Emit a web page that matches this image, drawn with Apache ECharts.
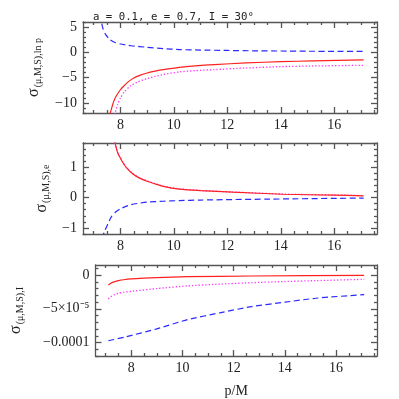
<!DOCTYPE html>
<html>
<head>
<meta charset="utf-8">
<script src="https://cdn.jsdelivr.net/npm/echarts@6/dist/echarts.min.js"></script>
<style>
  html, body { margin: 0; padding: 0; background: #fff; }
  #chart { width: 399px; height: 399px; }
</style>
</head>
<body>
<div id="chart"></div>
<script>
// x axis (p/M)
const xMajor = [8, 10, 12, 14, 16]
const xMinor = [7, 7.5, 8.5, 9, 9.5, 10.5, 11, 11.5, 12.5, 13, 13.5, 14.5, 15, 15.5, 16.5, 17, 17.5]

// panel 1: sigma ln p
const lnpBlueP = [7.25, 7.3, 7.36, 7.45, 7.6, 7.8, 8.0, 8.4, 9.0, 9.6, 10.2, 11, 12, 13, 14, 15, 16, 17.1]
const lnpBlueV = [7.5, 5.7, 4.5, 3.5, 2.55, 1.95, 1.65, 1.3, 1.0, 0.74, 0.55, 0.45, 0.37, 0.3, 0.26, 0.22, 0.19, 0.17]
const lnpRedP = [7.58, 7.62, 7.68, 7.73, 7.8, 7.86, 8.0, 8.1, 8.3, 8.5, 8.75, 9.0, 9.3, 9.6, 10.2, 10.8, 11.5, 12.7, 14, 15.2, 17.1]
const lnpRedV = [-13, -12, -10.9, -10, -9.1, -8.5, -7.4, -6.8, -5.8, -5.07, -4.5, -4.08, -3.73, -3.43, -2.96, -2.66, -2.43, -2.1, -1.84, -1.7, -1.5]
const lnpMagP = [7.75, 7.8, 7.9, 8.0, 8.15, 8.36, 8.65, 9.0, 9.3, 9.6, 10.2, 10.8, 11.5, 12.7, 14, 15.2, 17.1]
const lnpMagV = [-13, -12, -10.3, -9, -7.8, -6.7, -5.85, -5.2, -4.75, -4.4, -3.88, -3.62, -3.42, -3.09, -2.83, -2.7, -2.56]

// panel 2: sigma e
const eRedP = [7.75, 7.8, 7.86, 7.92, 8.0, 8.1, 8.24, 8.4, 8.6, 8.8, 9.0, 9.3, 9.6, 10.2, 11, 12.2, 14.1, 16, 17.1]
const eRedV = [2.0, 1.8, 1.58, 1.43, 1.3, 1.14, 0.97, 0.83, 0.7, 0.61, 0.54, 0.45, 0.37, 0.28, 0.23, 0.18, 0.11, 0.08, 0.06]
const eMagV = [2.02, 1.82, 1.6, 1.44, 1.31, 1.15, 0.98, 0.84, 0.71, 0.62, 0.55, 0.46, 0.38, 0.29, 0.235, 0.185, 0.115, 0.085, 0.065]
const eBlueP = [7.33, 7.36, 7.42, 7.49, 7.58, 7.67, 7.8, 8.0, 8.36, 8.7, 9.0, 9.6, 10.2, 11, 13.5, 17.1]
const eBlueV = [-1.35, -1.23, -1.08, -0.95, -0.77, -0.62, -0.49, -0.37, -0.24, -0.185, -0.15, -0.12, -0.1, -0.08, -0.05, -0.015]

// panel 3: sigma I
const iRedP = [7.1, 7.17, 7.24, 7.35, 7.5, 7.7, 8.0, 8.5, 9.0, 10.2, 12.7, 17.1]
const iRedV = [-1.46e-5, -1.28e-5, -1.12e-5, -0.96e-5, -0.82e-5, -0.69e-5, -0.57e-5, -0.46e-5, -0.38e-5, -0.23e-5, -0.13e-5, -0.03e-5]
const iMagP = [7.1, 7.17, 7.24, 7.35, 7.5, 7.7, 8.0, 9.0, 10.2, 11.5, 12.7, 14, 15.2, 17.1]
const iMagV = [-3.53e-5, -3.3e-5, -3.09e-5, -2.88e-5, -2.69e-5, -2.55e-5, -2.4e-5, -2.0e-5, -1.6e-5, -1.33e-5, -1.12e-5, -0.95e-5, -0.82e-5, -0.62e-5]
const iBlueP = [7.1, 7.73, 9.0, 10.2, 11.5, 12.7, 14.0, 15.2, 17.1]
const iBlueV = [-9.74e-5, -9.2e-5, -7.97e-5, -6.6e-5, -5.56e-5, -4.67e-5, -4.02e-5, -3.43e-5, -2.89e-5]

// y ticks
const y1Major = [5, 0, -5, -10]
const y1Labels = ['5', '0', '−5', '−10']
const y1Minor = [6, 4, 3, 2, 1, -1, -2, -3, -4, -6, -7, -8, -9, -11, -12]
const y2Major = [1, 0, -1]
const y2Labels = ['1', '0', '−1']
const y2Minor = [1.8, 1.6, 1.4, 1.2, 0.8, 0.6, 0.4, 0.2, -0.2, -0.4, -0.6, -0.8, -1.2]
const y3Major = [0, -5e-5, -1e-4]
const y3Labels = ['0', '−5×10⁻⁵', '−0.0001']
const y3Minor = [1e-5, -1e-5, -2e-5, -3e-5, -4e-5, -6e-5, -7e-5, -8e-5, -9e-5, -1.1e-4, -1.2e-4]

const frame = { color: '#555', width: 1.3 }
const serif = 'Liberation Serif'

const grids = [
  { left: 83, width: 294, top: 22, height: 91 },
  { left: 83, width: 294, top: 143, height: 91 },
  { left: 83, width: 294, top: 265, height: 92 }
]

const yRanges = [[-12, 6], [-1.2, 1.8], [-1.2e-4, 1.5e-5]]
const yTicks = [[y1Major, y1Minor, y1Labels], [y2Major, y2Minor, y2Labels], [y3Major, y3Minor, y3Labels]]
const yNames = [
  '{s|σ}{sub|(μ,M,S),ln p}',
  '{s|σ}{sub|(μ,M,S),e}',
  '{s|σ}{sub|(μ,M,S),I}'
]
const yNameGaps = [40, 32, 70]

const xAxes = []
const yAxes = []
grids.forEach((g, i) => {
  const base = { gridIndex: i, type: 'value', min: 6.6, max: 17.6, splitLine: { show: false } }
  ;['bottom', 'top'].forEach(pos => {
    xAxes.push(Object.assign({}, base, {
      position: pos,
      axisLine: { show: true, onZero: false, lineStyle: frame },
      axisTick: { show: true, inside: true, length: 6, customValues: xMajor, lineStyle: frame },
      axisLabel: pos === 'bottom'
        ? { show: true, customValues: xMajor, margin: 5, color: '#222', fontFamily: serif, fontSize: 14 }
        : { show: false },
      name: (pos === 'bottom' && i === 2) ? 'p/M' : '',
      nameLocation: 'middle',
      nameGap: 28,
      nameTextStyle: { color: '#222', fontFamily: serif, fontSize: 14 }
    }))
    xAxes.push(Object.assign({}, base, {
      position: pos,
      axisLine: { show: false, onZero: false },
      axisTick: { show: true, inside: true, length: 3, customValues: xMinor, lineStyle: frame },
      axisLabel: { show: false }
    }))
  })
  const [major, minor, labels] = yTicks[i]
  const ybase = { gridIndex: i, type: 'value', min: yRanges[i][0], max: yRanges[i][1], splitLine: { show: false } }
  ;['left', 'right'].forEach(pos => {
    yAxes.push(Object.assign({}, ybase, {
      position: pos,
      axisLine: { show: true, onZero: false, lineStyle: frame },
      axisTick: { show: true, inside: true, length: 6, customValues: major, lineStyle: frame },
      axisLabel: pos === 'left'
        ? {
            show: true, customValues: major, margin: 6, color: '#222', fontFamily: serif, fontSize: 14,
            formatter: v => {
              const k = major.findIndex(m => Math.abs(m - v) < Math.abs(yRanges[i][1] - yRanges[i][0]) * 1e-6)
              return k >= 0 ? labels[k] : ''
            }
          }
        : { show: false },
      name: pos === 'left' ? yNames[i] : '',
      nameLocation: 'middle',
      nameRotate: 90,
      nameGap: yNameGaps[i],
      nameTextStyle: {
        color: '#222',
        rich: {
          s: { fontFamily: serif, fontSize: 16, color: '#222' },
          sub: { fontFamily: serif, fontSize: 10, color: '#222', padding: [9, 0, 0, 1] }
        }
      }
    }))
    yAxes.push(Object.assign({}, ybase, {
      position: pos,
      axisLine: { show: false, onZero: false },
      axisTick: { show: true, inside: true, length: 3, customValues: minor, lineStyle: frame },
      axisLabel: { show: false }
    }))
  })
})

const zip = (ps, vs) => ps.map((p, k) => [p, vs[k]])

const red = { color: '#ff2020', width: 1.2, type: 'solid' }
const blue = { color: '#2a2aff', width: 1.2, type: [6, 3.5] }
const mag = { color: '#ff33ff', width: 1.3, type: [1.3, 2] }

function line(panel, data, style) {
  return {
    type: 'line',
    xAxisIndex: panel * 4,
    yAxisIndex: panel * 4,
    data: data,
    smooth: 0.2,
    showSymbol: false,
    symbol: 'none',
    clip: true,
    lineStyle: style,
    silent: true,
    animation: false
  }
}

const series = [
  line(0, zip(lnpMagP, lnpMagV), mag),
  line(0, zip(lnpRedP, lnpRedV), red),
  line(0, zip(lnpBlueP, lnpBlueV), blue),
  line(1, zip(eRedP, eMagV), mag),
  line(1, zip(eRedP, eRedV), red),
  line(1, zip(eBlueP, eBlueV), blue),
  line(2, zip(iMagP, iMagV), mag),
  line(2, zip(iRedP, iRedV), red),
  line(2, zip(iBlueP, iBlueV), blue)
]

const chart = echarts.init(document.getElementById('chart'))
chart.setOption({
  animation: false,
  title: {
    text: 'a = 0.1, e = 0.7, I = 30°',
    left: 88,
    top: 7,
    textStyle: { fontFamily: 'DejaVu Sans Mono', fontSize: 10.7, fontWeight: 'normal', color: '#222' }
  },
  grid: grids,
  xAxis: xAxes,
  yAxis: yAxes,
  series: series
})
window.addEventListener('resize', () => chart.resize())
</script>
</body>
</html>
